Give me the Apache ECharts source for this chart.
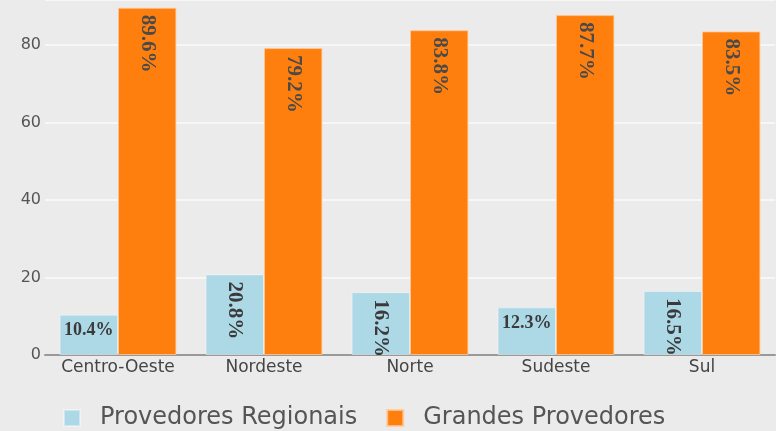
<!DOCTYPE html>
<html><head><meta charset="utf-8">
<script src="https://cdn.jsdelivr.net/npm/echarts@6/dist/echarts.min.js"></script>
<style>html,body{margin:0;padding:0;background:#ebebeb;}#c{width:776px;height:431px;}</style>
</head><body><div id="c"></div>
<script>
var categories = ["Centro-Oeste", "Nordeste", "Norte", "Sudeste", "Sul"];
var regionais = [10.4, 20.8, 16.2, 12.3, 16.5];
var grandes = [89.6, 79.2, 83.8, 87.7, 83.5];
var seriesNames = ["Provedores Regionais", "Grandes Provedores"];

function lab(v, color) {
  var rot = v >= 15;
  return {
    value: v,
    label: rot ? {
      show: true, position: 'insideTop', rotate: -90, align: 'left', verticalAlign: 'middle',
      distance: 7, fontFamily: 'Liberation Serif', fontSize: 21, fontWeight: 'bold', color: color,
      formatter: function (p) { return p.value.toFixed(1) + '%'; }
    } : {
      show: true, position: 'insideTop', distance: 7, fontFamily: 'Liberation Serif', fontSize: 18,
      fontWeight: 'bold', color: color,
      formatter: function (p) { return p.value.toFixed(1) + '%'; }
    }
  };
}

var chart = echarts.init(document.getElementById('c'));
chart.setOption({
  backgroundColor: '#ebebeb',
  animation: false,
  grid: { left: 45, right: 1, top: 0, bottom: 76 },
  legend: {
    left: 63, top: 406, padding: 0, itemWidth: 16, itemHeight: 16, itemGap: 29,
    icon: 'rect',
    textStyle: { fontFamily: 'DejaVu Sans', fontSize: 24, color: '#555', padding: [0, 0, 0, 15] },
    data: seriesNames
  },
  xAxis: {
    type: 'category', data: categories,
    axisLine: { lineStyle: { color: '#999', width: 2 } },
    axisTick: { show: false },
    axisLabel: { interval: 0, fontFamily: 'DejaVu Sans', fontSize: 17, color: '#444', margin: 4 }
  },
  yAxis: {
    type: 'value', min: 0, max: 91.6, interval: 20,
    axisLine: { show: false }, axisTick: { show: false },
    axisLabel: { fontFamily: 'DejaVu Sans', fontSize: 16, color: '#555', margin: 4, showMaxLabel: false },
    splitLine: { lineStyle: { color: '#f7f7f7', width: 2 } }
  },
  series: [
    {
      name: seriesNames[0], type: 'bar', barGap: '0%', barCategoryGap: '20%',
      itemStyle: { color: '#add8e6', borderColor: 'rgba(255,255,255,0.4)', borderWidth: 1 },
      data: regionais.map(function (v) { return lab(v, '#3a3a3a'); })
    },
    {
      name: seriesNames[1], type: 'bar', barGap: '0%', barCategoryGap: '20%',
      itemStyle: { color: '#ff7f0e', borderColor: 'rgba(255,200,150,0.8)', borderWidth: 1 },
      data: grandes.map(function (v) { return lab(v, '#4a4a4a'); })
    }
  ]
});
</script></body></html>
